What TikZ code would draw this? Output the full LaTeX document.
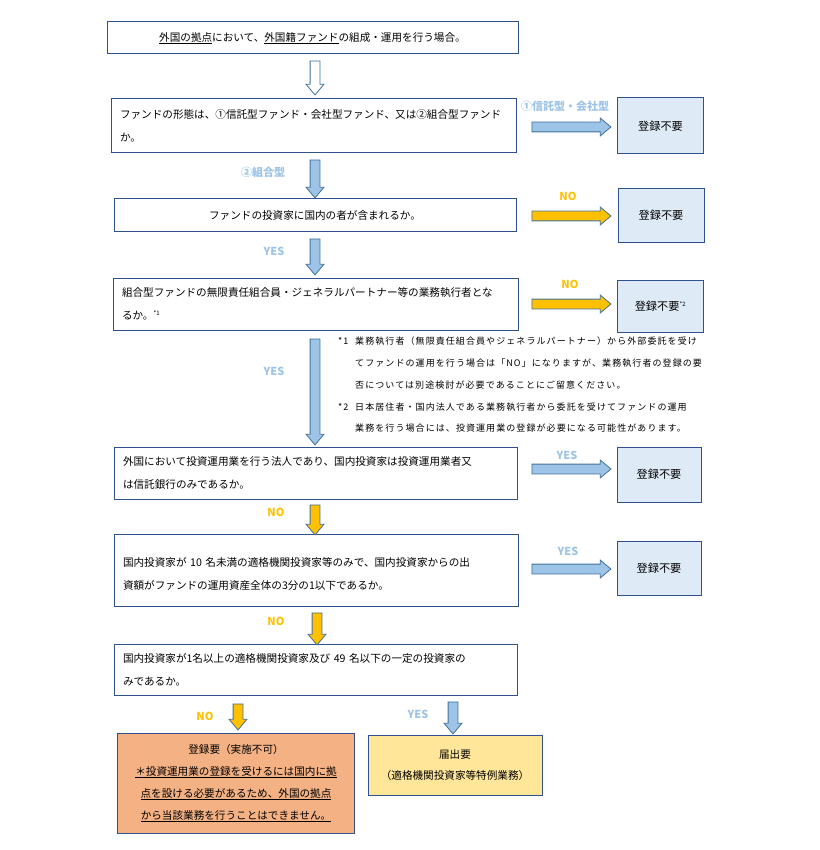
\documentclass[tikz,border=0pt]{standalone}
\usepackage{fontspec}
\setmainfont{Noto Sans CJK JP}
\newfontfamily\fnfont[LetterSpace=12]{Noto Sans CJK JP}
\usetikzlibrary{shapes.arrows}
\definecolor{BoxEdge}{RGB}{47, 82, 143}
\definecolor{ArrowEdge}{RGB}{65, 113, 156}
\definecolor{SkyBlue}{RGB}{157, 195, 230}
\definecolor{Amber}{RGB}{255, 192, 0}
\definecolor{PaleBlue}{RGB}{222, 235, 247}
\definecolor{Salmon}{RGB}{244, 177, 131}
\definecolor{Cream}{RGB}{255, 230, 153}

\begin{document}
\begin{tikzpicture}[x=1pt, y=-1pt,
    qbox/.style={rectangle, draw=BoxEdge, line width=1pt, fill=white, inner xsep=9pt, inner ysep=0pt,
                 font=\fontsize{10.6}{23}\selectfont},
    qleft/.style={qbox, align=left, text width=#1},
    qmid/.style={qbox, align=center, minimum width=#1},
    endbox/.style={rectangle, draw=BoxEdge, line width=1pt, fill=PaleBlue, align=center,
                   minimum width=86, font=\fontsize{11.2}{13}\selectfont},
    barrow/.style={single arrow, draw=ArrowEdge, line width=0.8pt, inner xsep=0pt, inner ysep=4.5pt,
                   single arrow head extend=4pt, single arrow tip angle=80, minimum height=#1},
    bluearrow/.style={barrow=#1, fill=SkyBlue},
    amberarrow/.style={barrow=#1, fill=Amber},
    bluetag/.style={text=SkyBlue, font=\fontsize{11}{13}\selectfont\bfseries},
    ambertag/.style={text=Amber, font=\fontsize{11}{13}\selectfont\bfseries}
  ]
  \useasboundingbox (0,0) rectangle (819,850);

  % question boxes
  \node[qmid=411, minimum height=32] (q1) at (312.5,38)
    {\underline{外国の拠点}において、\underline{外国籍ファンド}の組成・運用を行う場合。};
  \node[qleft=387, minimum height=54] (q2) at (313.5,126)
    {ファンドの形態は、①信託型ファンド・会社型ファンド、又は②組合型ファンド\\か。};
  \node[qmid=402, minimum height=32] (q3) at (315,215)
    {ファンドの投資家に国内の者が含まれるか。};
  \node[qleft=387, minimum height=52] (q4) at (315.5,304)
    {組合型ファンドの無限責任組合員・ジェネラルパートナー等の業務執行者とな\\るか。\textsuperscript{\fontsize{6}{7}\selectfont *1}};
  \node[qleft=385, minimum height=52] (q5) at (315.5,473)
    {外国において投資運用業を行う法人であり、国内投資家は投資運用業者又\\は信託銀行のみであるか。};
  \node[qleft=386, minimum height=72, text depth=15pt] (q6) at (316,570)
    {国内投資家が 10 名未満の適格機関投資家等のみで、国内投資家からの出\\資額がファンドの運用資産全体の3分の1以下であるか。};
  \node[qleft=385, minimum height=51] (q7) at (315.5,669.5)
    {国内投資家が1名以上の適格機関投資家及び 49 名以下の一定の投資家の\\みであるか。};

  % outcomes
  \node[endbox, minimum height=56] (r1) at (660.5,126) {登録不要};
  \node[endbox, minimum height=53] (r2) at (661,215.5) {登録不要};
  \node[endbox, minimum height=52] (r3) at (660.5,306) {登録不要\textsuperscript{\fontsize{6}{7}\selectfont *2}};
  \node[endbox, minimum width=84, minimum height=55] (r4) at (659,474.5) {登録不要};
  \node[endbox, minimum width=84, minimum height=54] (r5) at (659,568) {登録不要};
  \node[rectangle, draw=BoxEdge, line width=1pt, fill=Salmon, align=center, text width=230,
        minimum height=100, font=\fontsize{10.6}{22}\selectfont] (ng) at (236,783)
    {登録要（実施不可）\\\underline{＊投資運用業の登録を受けるには国内に拠}\\\underline{点を設ける必要があるため、外国の拠点}\\\underline{から当該業務を行うことはできません。}};
  \node[rectangle, draw=BoxEdge, line width=1pt, fill=Cream, align=center, minimum width=174,
        minimum height=60, font=\fontsize{10.6}{21}\selectfont] (ok) at (455,765)
    {届出要\\（適格機関投資家等特例業務）};

  % notes
  \node[anchor=north west, align=left, inner sep=0pt, font=\fnfont\fontsize{9}{21.7}\selectfont] (notes) at (338,337)
    {\makebox[17pt][l]{*1}業務執行者（無限責任組合員やジェネラルパートナー）から外部委託を受け\\
     \hspace*{17pt}てファンドの運用を行う場合は「NO」になりますが、業務執行者の登録の要\\
     \hspace*{17pt}否については別途検討が必要であることにご留意ください。\\
     \makebox[17pt][l]{*2}日本居住者・国内法人である業務執行者から委託を受けてファンドの運用\\
     \hspace*{17pt}業務を行う場合には、投資運用業の登録が必要になる可能性があります。};

  % block arrows down
  \node[barrow=34, fill=white, rotate=-90] (a1) at (315,75) {};
  \node[bluearrow=38, rotate=-90] (a2) at (315,176) {};
  \node[bluearrow=36, rotate=-90] (a3) at (315,254) {};
  \node[bluearrow=106, rotate=-90] (a4) at (315,389) {};
  \node[amberarrow=30, rotate=-90] (a5) at (315,517) {};
  \node[amberarrow=32, rotate=-90] (a6) at (317,626) {};
  \node[amberarrow=26, rotate=-90] (a7) at (238,714) {};
  \node[bluearrow=32, rotate=-90] (a8) at (453,715) {};

  % block arrows right
  \node[bluearrow=79] (h1) at (568.5,127) {};
  \node[amberarrow=79] (h2) at (568.5,216) {};
  \node[amberarrow=79] (h3) at (568.5,304) {};
  \node[bluearrow=79] (h4) at (568.5,469) {};
  \node[bluearrow=79] (h5) at (568.5,569) {};

  % branch labels
  \node[bluetag] (t1) at (565,106) {①信託型・会社型};
  \node[bluetag] (t2) at (263,172) {②組合型};
  \node[ambertag] (t3) at (568,196) {NO};
  \node[bluetag] (t4) at (274,251) {YES};
  \node[ambertag] (t5) at (570,284) {NO};
  \node[bluetag] (t6) at (274,371) {YES};
  \node[bluetag] (t7) at (567,455) {YES};
  \node[ambertag] (t8) at (276,512) {NO};
  \node[bluetag] (t9) at (568,551) {YES};
  \node[ambertag] (t10) at (276,621) {NO};
  \node[ambertag] (t11) at (205,716) {NO};
  \node[bluetag] (t12) at (418,714) {YES};
\end{tikzpicture}
\end{document}
